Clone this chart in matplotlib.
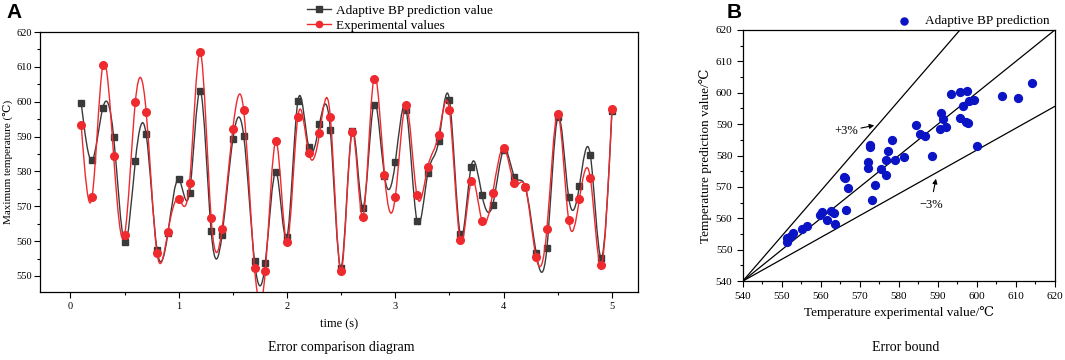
import numpy as np
import matplotlib
matplotlib.use("Agg")
import matplotlib.pyplot as plt
from matplotlib.path import Path
from matplotlib.patches import PathPatch
from matplotlib.lines import Line2D
from matplotlib.ticker import MultipleLocator

plt.rcParams['font.family'] = ['Liberation Serif', 'DejaVu Serif', 'Noto Sans CJK SC']

# ---------- data ----------
time_s = [0.1, 0.2, 0.3, 0.4, 0.5, 0.6, 0.7, 0.8, 0.9, 1.0,
          1.1, 1.2, 1.3, 1.4, 1.5, 1.6, 1.7, 1.8, 1.9, 2.0,
          2.1, 2.2, 2.3, 2.4, 2.5, 2.6, 2.7, 2.8, 2.9, 3.0,
          3.1, 3.2, 3.3, 3.4, 3.5, 3.6, 3.7, 3.8, 3.9, 4.0,
          4.1, 4.2, 4.3, 4.4, 4.5, 4.6, 4.7, 4.8, 4.9, 5.0]
predicted = [599.7, 583.2, 598.3, 589.8, 559.6, 583.0, 590.6, 557.5, 562.2, 577.8,
             573.9, 603.1, 562.8, 561.7, 589.2, 590.3, 554.3, 553.8, 579.8, 561.1,
             600.1, 587.0, 593.5, 591.9, 552.4, 591.7, 569.6, 599.1, 578.7, 582.6,
             597.7, 565.8, 579.4, 588.6, 600.5, 561.9, 581.4, 573.2, 570.5, 586.2,
             578.5, 575.6, 556.6, 558.1, 595.7, 572.7, 575.9, 584.8, 555.2, 597.3]
experimental = [593.3, 572.6, 610.5, 584.3, 561.7, 600.0, 597.1, 556.5, 562.6, 572.1,
                576.7, 614.2, 566.5, 563.4, 592.2, 597.6, 552.4, 551.4, 588.6, 559.7,
                595.6, 585.4, 590.9, 595.7, 551.4, 591.2, 567.0, 606.4, 579.1, 572.7,
                599.2, 573.1, 581.3, 590.5, 597.5, 560.2, 577.2, 565.9, 573.8, 586.8,
                576.6, 575.5, 555.3, 563.6, 596.5, 566.1, 572.1, 578.2, 553.0, 597.9]

# error bound lines drawn from (540, 540)
bound_origin = 540
bound_slope_hi = 1.437
bound_slope_lo = 0.696


def spline_patch(x, y, **kw):
    """Natural cubic spline through the points, drawn as a bezier path."""
    x = np.asarray(x, float)
    y = np.asarray(y, float)
    n = len(x)
    h = np.diff(x)
    A = np.zeros((n, n))
    r = np.zeros(n)
    A[0, 0] = A[-1, -1] = 1
    for i in range(1, n - 1):
        A[i, i - 1] = h[i - 1]
        A[i, i] = 2 * (h[i - 1] + h[i])
        A[i, i + 1] = h[i]
        r[i] = 6 * ((y[i + 1] - y[i]) / h[i] - (y[i] - y[i - 1]) / h[i - 1])
    M = np.linalg.solve(A, r)
    d = np.zeros(n)
    d[:-1] = (y[1:] - y[:-1]) / h - h * (2 * M[:-1] + M[1:]) / 6
    d[-1] = (y[-1] - y[-2]) / h[-1] + h[-1] * (M[-2] + 2 * M[-1]) / 6
    verts = [(x[0], y[0])]
    codes = [Path.MOVETO]
    for i in range(n - 1):
        verts += [(x[i] + h[i] / 3, y[i] + d[i] * h[i] / 3),
                  (x[i + 1] - h[i] / 3, y[i + 1] - d[i + 1] * h[i] / 3),
                  (x[i + 1], y[i + 1])]
        codes += [Path.CURVE4] * 3
    return PathPatch(Path(verts, codes), fill=False, **kw)


BLACK = '#3a3a3a'
RED = '#ee2a2e'
BLUE = '#0a14c4'

fig = plt.figure(figsize=(10.65, 3.6), dpi=100)

# ---------- panel A ----------
axA = fig.add_axes([0.0376, 0.189, 0.5614, 0.722])
axA.add_patch(spline_patch(time_s, predicted, edgecolor=BLACK, lw=1.0, zorder=2))
axA.plot(time_s, predicted, 's', color=BLACK, ms=5, zorder=3)
axA.add_patch(spline_patch(time_s, experimental, edgecolor=RED, lw=1.0, zorder=4))
axA.plot(time_s, experimental, 'o', color=RED, ms=5.5, zorder=5)

axA.set_xlim(-0.28, 5.24)
axA.set_ylim(545.4, 620)
axA.xaxis.set_major_locator(MultipleLocator(1))
axA.xaxis.set_minor_locator(MultipleLocator(0.5))
axA.yaxis.set_major_locator(MultipleLocator(10))
axA.yaxis.set_minor_locator(MultipleLocator(5))
axA.tick_params(which='both', direction='out', labelsize=7.5, width=0.8)
axA.tick_params(which='major', length=4)
axA.tick_params(which='minor', length=2.5)
axA.tick_params(axis='y', pad=2)
axA.set_xlabel('time (s)', fontsize=9, labelpad=5)
axA.set_ylabel('Maximum temperature (℃)', fontsize=8)
axA.yaxis.set_label_coords(-0.046, 0.5)
for s in axA.spines.values():
    s.set_linewidth(0.9)

handles = [Line2D([], [], color=BLACK, marker='s', ms=4, lw=1),
           Line2D([], [], color=RED, marker='o', ms=4.5, lw=1)]
fig.legend(handles, ['Adaptive BP prediction value', 'Experimental values'],
           loc='upper left', bbox_to_anchor=(0.277, 1.02), frameon=False,
           fontsize=9.5, handlelength=1.8, handletextpad=0.4, labelspacing=0.2)

fig.text(0.006, 0.965, 'A', fontsize=15, fontweight='bold', family='Liberation Sans', va='center')
fig.text(0.32, 0.036, 'Error comparison diagram', fontsize=10, ha='center', va='center')

# ---------- panel B ----------
axB = fig.add_axes([0.6974, 0.219, 0.2932, 0.698])
lim = [540, 620]
axB.plot(lim, lim, color='black', lw=0.9)
axB.plot(lim, [bound_origin + bound_slope_hi * (v - bound_origin) for v in lim],
         color='black', lw=0.9)
axB.plot(lim, [bound_origin + bound_slope_lo * (v - bound_origin) for v in lim],
         color='black', lw=0.9)
axB.scatter(experimental, predicted, s=32, color=BLUE, zorder=3,
            label='Adaptive BP prediction')

axB.annotate('+3%', xy=(573.7, 589.6), xytext=(563.5, 587.8), fontsize=9,
             va='center', arrowprops=dict(arrowstyle='-|>', color='black', lw=0.8,
                                          mutation_scale=7, shrinkA=0, shrinkB=0))
axB.annotate('−3%', xy=(589.5, 572.6), xytext=(588.2, 564.4), fontsize=9,
             ha='center', va='center',
             arrowprops=dict(arrowstyle='-|>', color='black', lw=0.8,
                             mutation_scale=7, shrinkA=3, shrinkB=0))

axB.set_xlim(540, 620)
axB.set_ylim(540, 620)
axB.xaxis.set_major_locator(MultipleLocator(10))
axB.xaxis.set_minor_locator(MultipleLocator(5))
axB.yaxis.set_major_locator(MultipleLocator(10))
axB.yaxis.set_minor_locator(MultipleLocator(5))
axB.tick_params(which='both', direction='out', labelsize=8, width=0.8)
axB.tick_params(which='major', length=4)
axB.tick_params(which='minor', length=2.5)
axB.set_xlabel('Temperature experimental value/℃', fontsize=9.5, labelpad=4)
axB.set_ylabel('Temperature prediction value/℃', fontsize=9.5)
axB.yaxis.set_label_coords(-0.1, 0.5)
for s in axB.spines.values():
    s.set_linewidth(0.9)
axB.legend(loc='lower right', bbox_to_anchor=(1.0, 0.99), frameon=False,
           fontsize=9.5, handletextpad=0.6, borderaxespad=0, markerscale=0.9)

fig.text(0.682, 0.965, 'B', fontsize=15, fontweight='bold', family='Liberation Sans', va='center')
fig.text(0.85, 0.036, 'Error bound', fontsize=10, ha='center', va='center')

fig.savefig('out.png', dpi=100)
